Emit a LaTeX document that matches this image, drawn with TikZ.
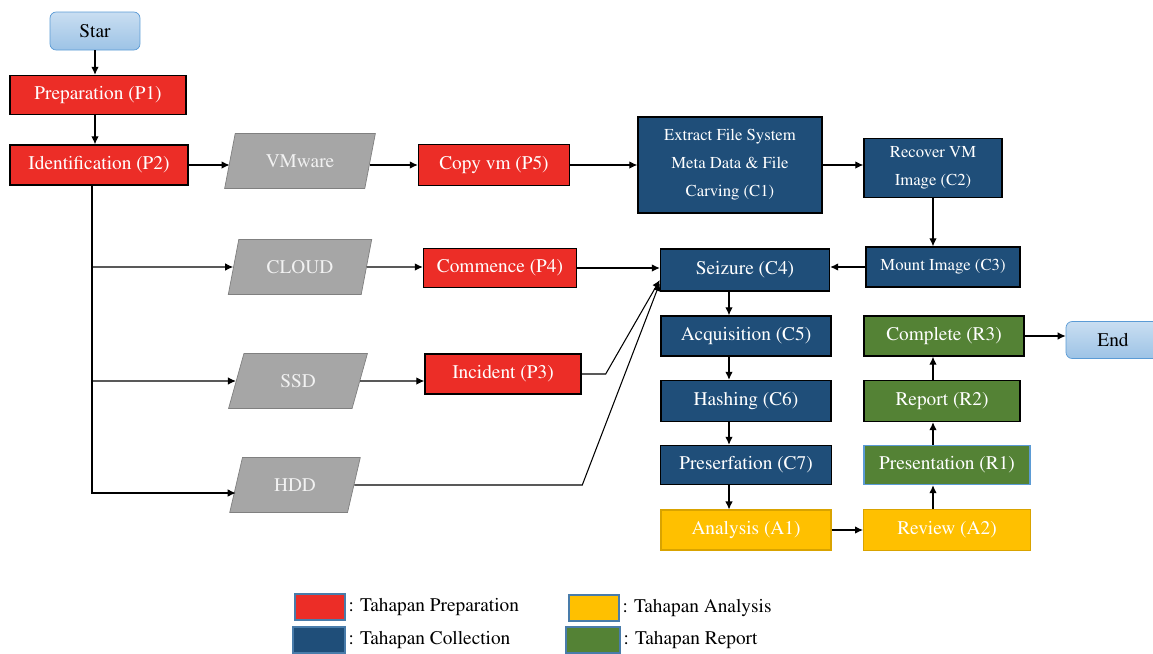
\documentclass[tikz,border=0pt]{standalone}
\usepackage[T1]{fontenc}
\usepackage{mathptmx}
\usepackage{tikz}
\usetikzlibrary{arrows.meta, shapes.geometric}
\definecolor{prepred}{HTML}{EC2D27}
\definecolor{collblue}{HTML}{1F4E79}
\definecolor{anlyellow}{HTML}{FFC000}
\definecolor{repgreen}{HTML}{548235}
\definecolor{mediagray}{HTML}{A6A6A6}
\definecolor{termblue}{HTML}{9DC3E6}
\definecolor{lineblue}{HTML}{5B9BD5}

\begin{document}
\begin{tikzpicture}[x=0.02cm, y=-0.02cm, font=\fontsize{11}{13}\selectfont,
    box/.style={draw=black, line width=0.8pt, minimum height=0.8cm, text=white, inner sep=1pt},
    prep/.style={box, fill=prepred},
    coll/.style={box, fill=collblue},
    anl/.style={box, fill=anlyellow, draw=anlyellow!85!black, line width=0.6pt},
    rep/.style={box, fill=repgreen},
    smalltext/.style={font=\fontsize{9.5}{16}\selectfont},
    media/.style={trapezium, trapezium left angle=75, trapezium right angle=105, trapezium stretches=true,
      fill=mediagray, draw=gray, minimum height=1.1cm, text=white!95!black},
    term/.style={rounded corners=3.5pt, draw=lineblue, top color=termblue!55, bottom color=termblue,
      minimum width=1.8cm, minimum height=0.76cm},
    arr/.style={-{Latex[length=1.6mm, width=1.5mm]}, line width=0.6pt},
    legbox/.style={draw=lineblue!80!black, line width=0.8pt, minimum width=1cm, minimum height=0.52cm},
    legtext/.style={anchor=west, inner sep=1.5pt}
  ]
    \useasboundingbox (0,0) rectangle (1153,653);

    \node[term] (start) at (95,31) {Star};
    \node[prep, minimum width=3.52cm, minimum height=0.78cm] (p1) at (98,95) {Preparation (P1)};
    \node[prep, minimum width=3.56cm] (p2) at (99,165) {Identification (P2)};
    \node[media, minimum width=3.02cm] (vm) at (300,161) {VMware};
    \node[media, minimum width=2.88cm] (cloud) at (300,267) {CLOUD};
    \node[media, minimum width=2.78cm] (ssd) at (298,381) {SSD};
    \node[media, minimum width=2.62cm] (hdd) at (295,485) {HDD};
    \node[prep, minimum width=3.02cm, minimum height=0.82cm] (p5) at (494,165) {Copy vm (P5)};
    \node[prep, minimum width=3.06cm, minimum height=0.78cm] (p4) at (500,268) {Commence (P4)};
    \node[prep, minimum width=3.12cm] (p3) at (503,374) {Incident (P3)};
    \node[coll, smalltext, align=center, minimum width=3.68cm, minimum height=1.92cm] (c1) at (730,165)
      {Extract File System\\Meta Data \& File\\Carving (C1)};
    \node[coll, smalltext, align=center, minimum width=2.76cm, minimum height=1.18cm] (c2) at (933,168)
      {Recover VM\\Image (C2)};
    \node[coll, smalltext, minimum width=3.08cm] (c3) at (943,267) {Mount Image (C3)};
    \node[coll, minimum width=3.38cm, minimum height=0.84cm] (c4) at (745,270) {Seizure (C4)};
    \node[coll, minimum width=3.4cm] (c5) at (746,336) {Acquisition (C5)};
    \node[coll, minimum width=3.4cm, minimum height=0.82cm] (c6) at (746,401) {Hashing (C6)};
    \node[coll, minimum width=3.42cm, minimum height=0.78cm] (c7) at (746,465) {Preserfation (C7)};
    \node[anl, minimum width=3.4cm] (a1) at (746,530) {Analysis (A1)};
    \node[anl, minimum width=3.34cm, minimum height=0.82cm] (a2) at (947,530) {Review (A2)};
    \node[rep, draw=lineblue, minimum width=3.32cm, minimum height=0.78cm] (r1) at (947,465) {Presentation (R1)};
    \node[rep, minimum width=3.12cm, minimum height=0.82cm] (r2) at (942,401) {Report (R2)};
    \node[rep, minimum width=3.2cm] (r3) at (944,336) {Complete (R3)};
    \node[term, minimum width=1.88cm, minimum height=0.74cm] (stop) at (1113,340) {End};

    \coordinate (cx) at (729,0);
    \coordinate (rx) at (933,0);
    \coordinate (br) at ([xshift=-0.14cm]p2.south);

    \draw[arr] (start) -- (start |- p1.north);
    \draw[arr] (p1.south -| start) -- (p2.north -| start);
    \draw[arr] (p2) -- (p2 -| vm.west);
    \draw[arr] (br) |- ([yshift=-0.16cm]hdd.west);
    \draw[arr] (br |- cloud) -- (cloud.west);
    \draw[arr] (br |- ssd) -- (ssd.west);
    \draw[arr] (vm.east |- p5) -- (p5);
    \draw[arr] (p5) -- (p5 -| c1.west);
    \draw[arr] (c1) -- (c1 -| c2.west);
    \draw[arr] (c2) -- (c2 |- c3.north);
    \draw[arr] (c3) -- (c3 -| c4.east);
    \draw[arr] (cloud) -- (cloud -| p4.west);
    \draw[arr] (p4) -- (p4 -| c4.west);
    \draw[arr] (ssd) -- (ssd -| p3.west);
    \draw[arr] (p3.east) -- ++(24,0) -- ([yshift=-0.2cm]c4.west);
    \draw[arr] (hdd.east) -- ++(228,0) -- ([yshift=-0.26cm]c4.west);
    \draw[arr] (c4.south -| cx) -- (c5.north -| cx);
    \draw[arr] (c5.south -| cx) -- (c6.north -| cx);
    \draw[arr] (c6.south -| cx) -- (c7.north -| cx);
    \draw[arr] (c7.south -| cx) -- (a1.north -| cx);
    \draw[arr] (a1) -- (a2);
    \draw[arr] (a2.north -| rx) -- (r1.south -| rx);
    \draw[arr] (r1.north -| rx) -- (r2.south -| rx);
    \draw[arr] (r2.north -| rx) -- (r3.south -| rx);
    \draw[arr] (r3) -- (r3 -| stop.west);

    \node[legbox, fill=prepred] (lp) at (320,607) {};
    \node[legtext] (lpt) at (lp.east) {: Tahapan Preparation};
    \node[legbox, fill=collblue, minimum width=1.04cm] (lc) at (319,640) {};
    \node[legtext] (lct) at (lc.east) {: Tahapan Collection};
    \node[legbox, fill=anlyellow] (la) at (594,608) {};
    \node[legtext] (lat) at (la.east) {: Tahapan Analysis};
    \node[legbox, fill=repgreen, minimum width=1.08cm] (lr) at (593,640) {};
    \node[legtext] (lrt) at (lr.east) {: Tahapan Report};
\end{tikzpicture}
\end{document}
